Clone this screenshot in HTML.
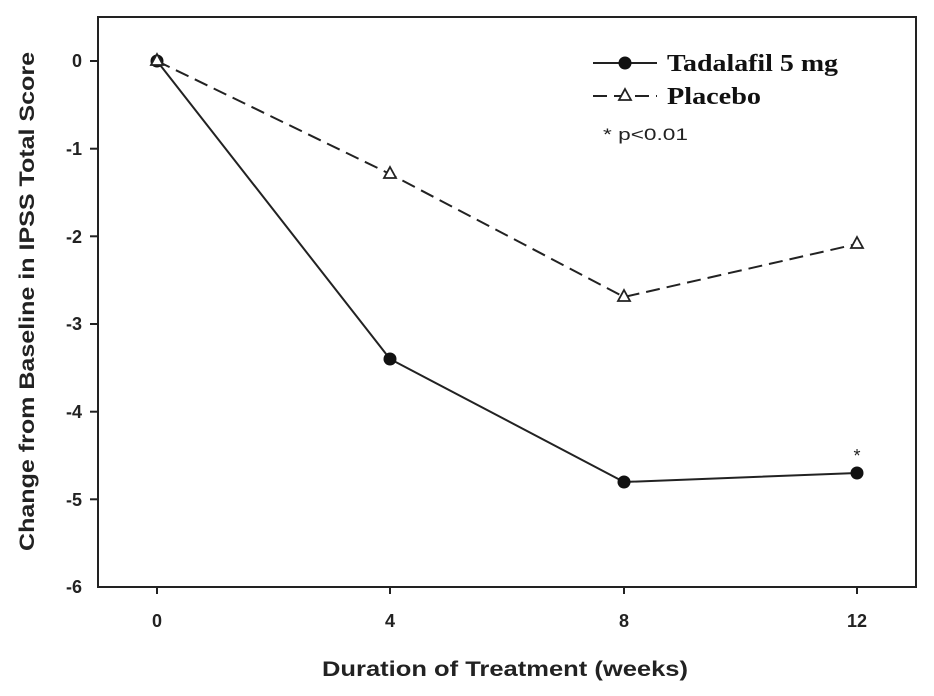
<!DOCTYPE html>
<html><head><style>body{margin:0;background:#fff}</style></head><body>
<svg width="934" height="691" xmlns="http://www.w3.org/2000/svg" font-family="Liberation Sans, Arial, sans-serif">
<rect x="98" y="17" width="818" height="570" fill="none" stroke="#222" stroke-width="2"/>
<g stroke="#222" stroke-width="2">
<line x1="90" y1="61" x2="98" y2="61"/><line x1="90" y1="148.7" x2="98" y2="148.7"/>
<line x1="90" y1="236.3" x2="98" y2="236.3"/><line x1="90" y1="324" x2="98" y2="324"/>
<line x1="90" y1="411.7" x2="98" y2="411.7"/><line x1="90" y1="499.3" x2="98" y2="499.3"/>
<line x1="157" y1="587" x2="157" y2="594"/><line x1="390" y1="587" x2="390" y2="594"/>
<line x1="624" y1="587" x2="624" y2="594"/><line x1="857" y1="587" x2="857" y2="594"/>
</g>
<g font-size="18" font-weight="bold" fill="#222" text-anchor="end">
<text x="82" y="67">0</text><text x="82" y="155">-1</text><text x="82" y="243">-2</text>
<text x="82" y="330">-3</text><text x="82" y="418">-4</text><text x="82" y="506">-5</text><text x="82" y="593">-6</text>
</g>
<g font-size="18" font-weight="bold" fill="#222" text-anchor="middle">
<text x="157" y="627">0</text><text x="390" y="627">4</text><text x="624" y="627">8</text><text x="857" y="627">12</text>
</g>
<text x="322" y="676" font-size="21" font-weight="bold" fill="#222" textLength="366" lengthAdjust="spacingAndGlyphs">Duration of Treatment (weeks)</text>
<text transform="translate(34,551) rotate(-90)" font-size="21" font-weight="bold" fill="#222" textLength="499" lengthAdjust="spacingAndGlyphs">Change from Baseline in IPSS Total Score</text>
<polyline points="157,61 390,174 624,297 857,244" fill="none" stroke="#222" stroke-width="2" stroke-dasharray="14,7"/>
<polyline points="157,61 390,359 624,482 857,473" fill="none" stroke="#222" stroke-width="2"/>
<g fill="#111"><circle cx="157" cy="61" r="6.5"/><circle cx="390" cy="359" r="6.5"/><circle cx="624" cy="482" r="6.5"/><circle cx="857" cy="473" r="6.5"/></g>
<g fill="#fff" stroke="#222" stroke-width="1.8">
<polygon points="157,54 163,65 151,65"/><polygon points="390,167 396,178 384,178"/>
<polygon points="624,290 630,301 618,301"/><polygon points="857,237 863,248 851,248"/>
</g>
<text x="857" y="462" font-size="18" text-anchor="middle" fill="#222">*</text>
<line x1="593" y1="63" x2="657" y2="63" stroke="#222" stroke-width="2"/><circle cx="625" cy="63" r="6.5" fill="#111"/>
<line x1="593" y1="96" x2="657" y2="96" stroke="#222" stroke-width="2" stroke-dasharray="14,7"/>
<polygon points="625,89 631,100 619,100" fill="#fff" stroke="#222" stroke-width="1.8"/>
<g font-family="Liberation Serif, serif" font-weight="bold" font-size="24" fill="#111">
<text x="667" y="71" textLength="171" lengthAdjust="spacingAndGlyphs">Tadalafil 5 mg</text><text x="667" y="104" textLength="94" lengthAdjust="spacingAndGlyphs">Placebo</text></g>
<text x="603" y="140" font-size="17" fill="#222" textLength="85" lengthAdjust="spacingAndGlyphs">* p&lt;0.01</text>
</svg>
</body></html>
